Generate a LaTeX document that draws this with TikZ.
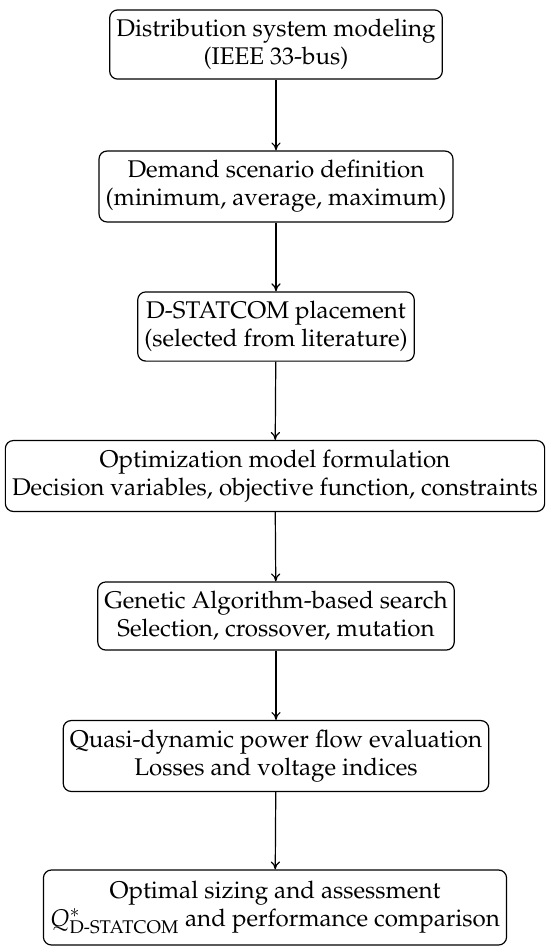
\documentclass[tikz,border=0pt]{standalone}
\usepackage[T1]{fontenc}
\usepackage{amsmath}
\usepackage{mathpazo}
\usetikzlibrary{arrows.meta}
\tikzset{
  flowbox/.style={draw, line width=0.9pt, rounded corners=6pt, align=center,
    inner xsep=5pt, inner ysep=7pt, font=\fontsize{18.1}{21}\selectfont},
  flowarrow/.style={-{To[length=6pt,width=7pt]}, line width=0.9pt}
}
\begin{document}
\begin{tikzpicture}[x=0.75pt,y=-0.75pt]
\useasboundingbox (0,0) rectangle (550,951);
\node[flowbox] (b1) at (276,44.5) {Distribution system modeling\\(IEEE 33-bus)};
\node[flowbox] (b2) at (276,186.5) {Demand scenario definition\\(minimum, average, maximum)};
\node[flowbox] (b3) at (276,326.5) {D-STATCOM placement\\(selected from literature)};
\node[flowbox] (b4) at (275,476) {Optimization model formulation\\Decision variables, objective function, constraints};
\node[flowbox] (b5) at (276,616) {Genetic Algorithm-based search\\Selection, crossover, mutation};
\node[flowbox] (b6) at (276,756) {Quasi-dynamic power flow evaluation\\Losses and voltage indices};
\node[flowbox, inner ysep=8pt] (b7) at (275,907.5) {Optimal sizing and assessment\\$Q^{*}_{\text{D-STATCOM}}$ and performance comparison};
\draw[flowarrow] (b1) -- (b2);
\draw[flowarrow] (b2) -- (b3);
\draw[flowarrow] (b3) -- (b4);
\draw[flowarrow] (b4) -- (b5);
\draw[flowarrow] (b5) -- (b6);
\draw[flowarrow] (b6) -- (b7);
\end{tikzpicture}
\end{document}
